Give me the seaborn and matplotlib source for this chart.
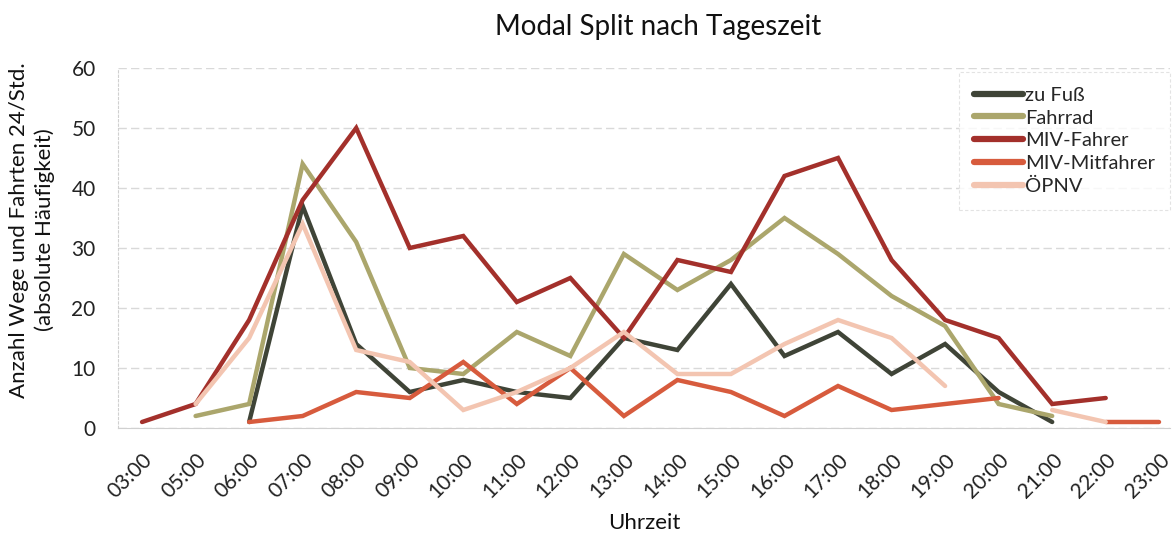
import numpy as np
import pandas as pd
import matplotlib
matplotlib.use("Agg")
import matplotlib.pyplot as plt
from matplotlib.lines import Line2D
import seaborn as sns

nan = np.nan

hours = ["03:00", "05:00", "06:00", "07:00", "08:00", "09:00", "10:00",
         "11:00", "12:00", "13:00", "14:00", "15:00", "16:00", "17:00",
         "18:00", "19:00", "20:00", "21:00", "22:00", "23:00"]

zu_fuss = [nan, nan, 1, 37, 14, 6, 8, 6, 5, 15, 13, 24, 12, 16, 9, 14, 6, 1, nan, nan]
fahrrad = [nan, 2, 4, 44, 31, 10, 9, 16, 12, 29, 23, 28, 35, 29, 22, 17, 4, 2, nan, nan]
miv_fahrer = [1, 4, 18, 38, 50, 30, 32, 21, 25, 15, 28, 26, 42, 45, 28, 18, 15, 4, 5, nan]
miv_mitfahrer = [nan, nan, 1, 2, 6, 5, 11, 4, 10, 2, 8, 6, 2, 7, 3, 4, 5, nan, 1, 1]
oepnv = [nan, 4, 15, 34, 13, 11, 3, 6, 10, 16, 9, 9, 14, 18, 15, 7, nan, 3, 1, nan]

modes = ["zu Fuß", "Fahrrad", "MIV-Fahrer", "MIV-Mitfahrer", "ÖPNV"]
series = [zu_fuss, fahrrad, miv_fahrer, miv_mitfahrer, oepnv]
colors = ["#3f4437", "#aba66c", "#a3302b", "#d75b3d", "#f3c5b1"]

# long table, one unit per unbroken stretch so gaps stay open
rows = []
for mode, vals in zip(modes, series):
    seg = 0
    prev_nan = True
    for i, v in enumerate(vals):
        if np.isnan(v):
            prev_nan = True
            continue
        if prev_nan:
            seg += 1
            prev_nan = False
        rows.append({"pos": i, "value": v, "mode": mode, "seg": f"{mode}-{seg}"})
df = pd.DataFrame(rows)

sns.set_style("white")
plt.rcParams["font.family"] = ["Lato", "DejaVu Sans"]

fig = plt.figure(figsize=(11.75, 5.4), dpi=100)
ax = fig.add_axes([0.1004, 0.2074, 0.8953, 0.6667])

sns.lineplot(data=df, x="pos", y="value", hue="mode", units="seg",
             estimator=None, palette=dict(zip(modes, colors)),
             hue_order=modes, linewidth=3.2, legend=False, ax=ax,
             solid_capstyle="round", solid_joinstyle="miter")

ax.set_xlim(-0.45, 19.2)
ax.set_ylim(0, 60)
ax.set_yticks(range(0, 61, 10))
ax.set_xticks(range(len(hours)))
ax.set_xticklabels(hours, rotation=45, ha="right", rotation_mode="anchor")
ax.tick_params(axis="both", labelsize=15, colors="#222222", length=0)
ax.tick_params(axis="x", pad=16)
ax.tick_params(axis="y", pad=16)

ax.yaxis.grid(True, color="#d9d9d9", linewidth=1, linestyle=(0, (6, 3)))
ax.set_axisbelow(True)
for s in ["top", "right"]:
    ax.spines[s].set_visible(False)
ax.spines["left"].set_color("#d0d0d0")
ax.spines["left"].set_linestyle((0, (2, 2)))
ax.spines["bottom"].set_color("#d0d0d0")

ax.set_xlabel("Uhrzeit", fontsize=16, color="#111111", labelpad=8)
ax.set_ylabel("Anzahl Wege und Fahrten 24/Std.\n(absolute Häufigkeit)",
              fontsize=16, color="#111111", labelpad=12, y=0.55,
              linespacing=1.3)
fig.suptitle("Modal Split nach Tageszeit", fontsize=20, x=0.56, y=0.975,
             color="#111111")

handles = [Line2D([], [], color=c, linewidth=4.5, solid_capstyle="round")
           for c in colors]
leg = ax.legend(handles, modes, loc="upper right", fontsize=14.5,
                handlelength=2.4, handletextpad=0.1, labelspacing=0.28,
                borderaxespad=0.0, borderpad=0.75, frameon=True,
                fancybox=False, bbox_to_anchor=(1.0, 0.99))
leg.get_frame().set_edgecolor("#dddddd")
leg.get_frame().set_linestyle((0, (3, 2)))
leg.get_frame().set_linewidth(0.8)

fig.savefig("out.png", dpi=100)
